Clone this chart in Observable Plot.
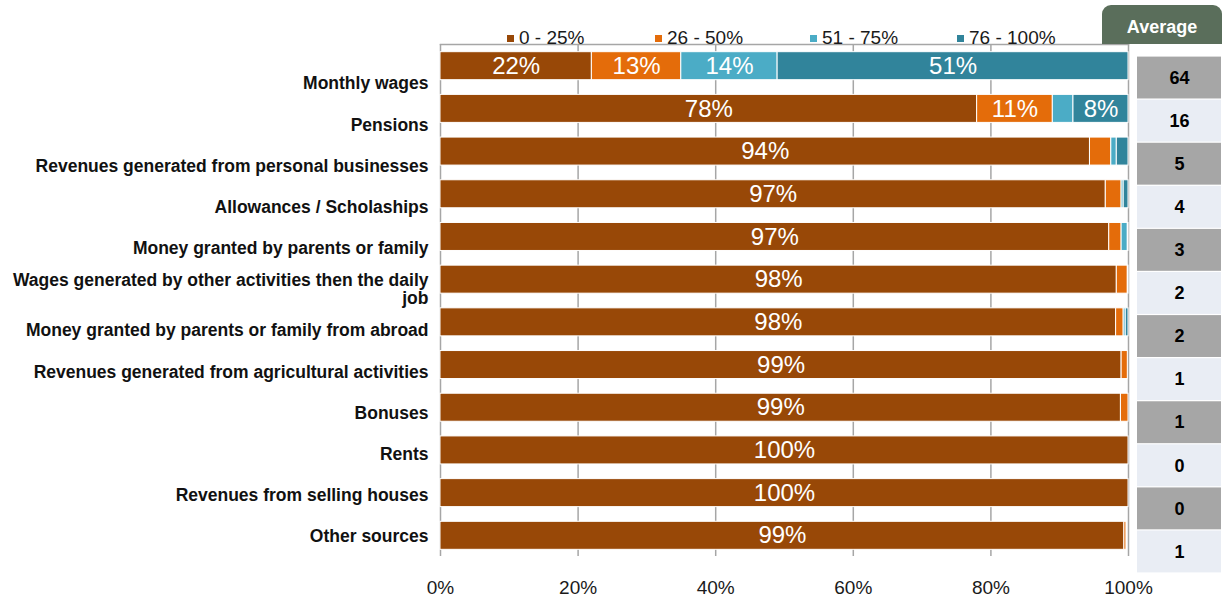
<!DOCTYPE html>
<html>
<head>
<meta charset="utf-8">
<script src="https://cdn.jsdelivr.net/npm/d3@7"></script>
<script src="https://cdn.jsdelivr.net/npm/@observablehq/plot@0.6"></script>
<style>
  body { margin: 0; background: #fff; font-family: "Liberation Sans", Arial, sans-serif; }
  #wrap { position: relative; width: 1230px; height: 597px; overflow: hidden; }
  #wrap > svg { position: absolute; left: 0; top: 0; }
  .legend-item { position: absolute; top: 27px; height: 22px; display: flex; align-items: center;
    font-size: 19px; color: #1a1a1a; white-space: nowrap; }
  .sw { width: 7px; height: 7px; margin-right: 5px; }
  #avgHead { position: absolute; left: 1102px; top: 5px; width: 120px; height: 39px; background: #5a6e5b;
    border-radius: 9px 9px 0 0; color: #fff; font-weight: bold; font-size: 18px; box-sizing: border-box;
    padding-top: 6px; display: flex; align-items: center; justify-content: center; }
</style>
</head>
<body>
<div id="wrap"></div>
<script>
// ---- data ----
const categories = [
  "Monthly wages",
  "Pensions",
  "Revenues generated from personal businesses",
  "Allowances / Scholaships",
  "Money granted by parents or family",
  "Wages generated by other activities then the daily job",
  "Money granted by parents or family from abroad",
  "Revenues generated from agricultural activities",
  "Bonuses",
  "Rents",
  "Revenues from selling houses",
  "Other sources"
];
const tickLabels = [
  "Monthly wages",
  "Pensions",
  "Revenues generated from personal businesses",
  "Allowances / Scholaships",
  "Money granted by parents or family",
  "Wages generated by other activities then the daily\njob",
  "Money granted by parents or family from abroad",
  "Revenues generated from agricultural activities",
  "Bonuses",
  "Rents",
  "Revenues from selling houses",
  "Other sources"
];
const series = ["0 - 25%", "26 - 50%", "51 - 75%", "76 - 100%"];
const colors = ["#984807", "#E46C0A", "#4BACC6", "#31849B"];
const s1 = [22, 78, 94.4, 96.7, 97.2, 98.3, 98.2, 99.0, 98.9, 100, 100, 99.4];
const s2 = [13, 11, 3.1, 2.3, 1.8, 1.6, 1.1, 0.9, 1.1, 0, 0, 0.3];
const s3 = [14, 3, 0.8, 0.3, 0.9, 0, 0.3, 0, 0, 0, 0, 0];
const s4 = [51, 8, 1.7, 0.7, 0.1, 0.1, 0.4, 0, 0, 0, 0, 0];
const averages = [64, 16, 5, 4, 3, 2, 2, 1, 1, 0, 0, 1];
const xTicks = [0, 20, 40, 60, 80, 100];
const avgTitle = "Average";

const seriesValues = [s1, s2, s3, s4];
const tidy = categories.flatMap((c, i) =>
  series.map((s, j) => ({category: c, series: s, value: seriesValues[j][i]})));

const font = "'Liberation Sans', Arial, sans-serif";
const wrap = document.getElementById("wrap");

// ---- main stacked bars ----
const main = Plot.plot({
  width: 1230, height: 597,
  marginLeft: 440, marginRight: 102, marginTop: 37, marginBottom: 33,
  style: {fontFamily: font, fontSize: "19px", color: "#1a1a1a", background: "transparent"},
  x: {domain: [0, 100]},
  y: {type: "band", domain: categories, padding: 0.344, round: false, axis: null},
  color: {domain: series, range: colors},
  marks: [
    Plot.frame({anchor: "top", insetTop: 7, stroke: "#a6a6a6", strokeWidth: 1.5}),
    Plot.ruleX(xTicks, {stroke: "#a6a6a6", strokeWidth: 1.5, insetTop: 7, insetBottom: 8}),
    Plot.barX(tidy, {y: "category", x: "value", fill: "series", stroke: "white", strokeWidth: 1}),
    Plot.text(tidy, Plot.stackX({
      y: "category", x: "value", z: "series",
      text: d => d.value >= 7.5 ? Math.round(d.value) + "%" : "",
      fill: "white", fontSize: 24
    })),
    Plot.axisX(xTicks, {tickFormat: d => d + "%", tickSize: 0, tickPadding: 16, label: null})
  ]
});
wrap.appendChild(main);

// ---- category labels ----
const labels = Plot.plot({
  width: 1230, height: 597,
  marginLeft: 0, marginRight: 802, marginTop: 0, marginBottom: 0,
  style: {fontFamily: font, background: "transparent"},
  y: {type: "point", domain: categories, range: [83, 536], padding: 0, round: false, axis: null},
  marks: [
    Plot.text(categories, {
      y: d => d, text: (d, i) => tickLabels[i],
      frameAnchor: "right", textAnchor: "end",
      fontWeight: "bold", fontSize: 17.5, fill: "#111", lineHeight: 1.05
    })
  ]
});
wrap.appendChild(labels);

// ---- average column ----
const avg = Plot.plot({
  width: 1230, height: 597,
  marginLeft: 1137, marginRight: 9, marginTop: 0, marginBottom: 0,
  style: {fontFamily: font, background: "transparent"},
  x: {type: "band", domain: [avgTitle], padding: 0, round: false, axis: null},
  y: {type: "band", domain: categories, range: [56, 573], padding: 0, round: false, axis: null},
  color: {type: "identity"},
  marks: [
    Plot.cell(categories, {
      x: () => avgTitle, y: d => d,
      fill: (d, i) => i % 2 ? "#e9edf4" : "#a6a6a6",
      insetTop: 0.6, insetBottom: 0.6
    }),
    Plot.text(averages, {
      x: () => avgTitle, y: (d, i) => categories[i], text: d => String(d),
      fontWeight: "bold", fontSize: 18, fill: "#000"
    })
  ]
});
wrap.appendChild(avg);

// ---- average header ----
const head = document.createElement("div");
head.id = "avgHead";
head.textContent = avgTitle;
wrap.appendChild(head);

// ---- legend ----
const legendLeft = [507, 655, 810, 957];
series.forEach((s, j) => {
  const item = document.createElement("div");
  item.className = "legend-item";
  item.style.left = legendLeft[j] + "px";
  const sw = document.createElement("span");
  sw.className = "sw";
  sw.style.background = colors[j];
  const t = document.createElement("span");
  t.textContent = s;
  item.appendChild(sw);
  item.appendChild(t);
  wrap.appendChild(item);
});
</script>
</body>
</html>
